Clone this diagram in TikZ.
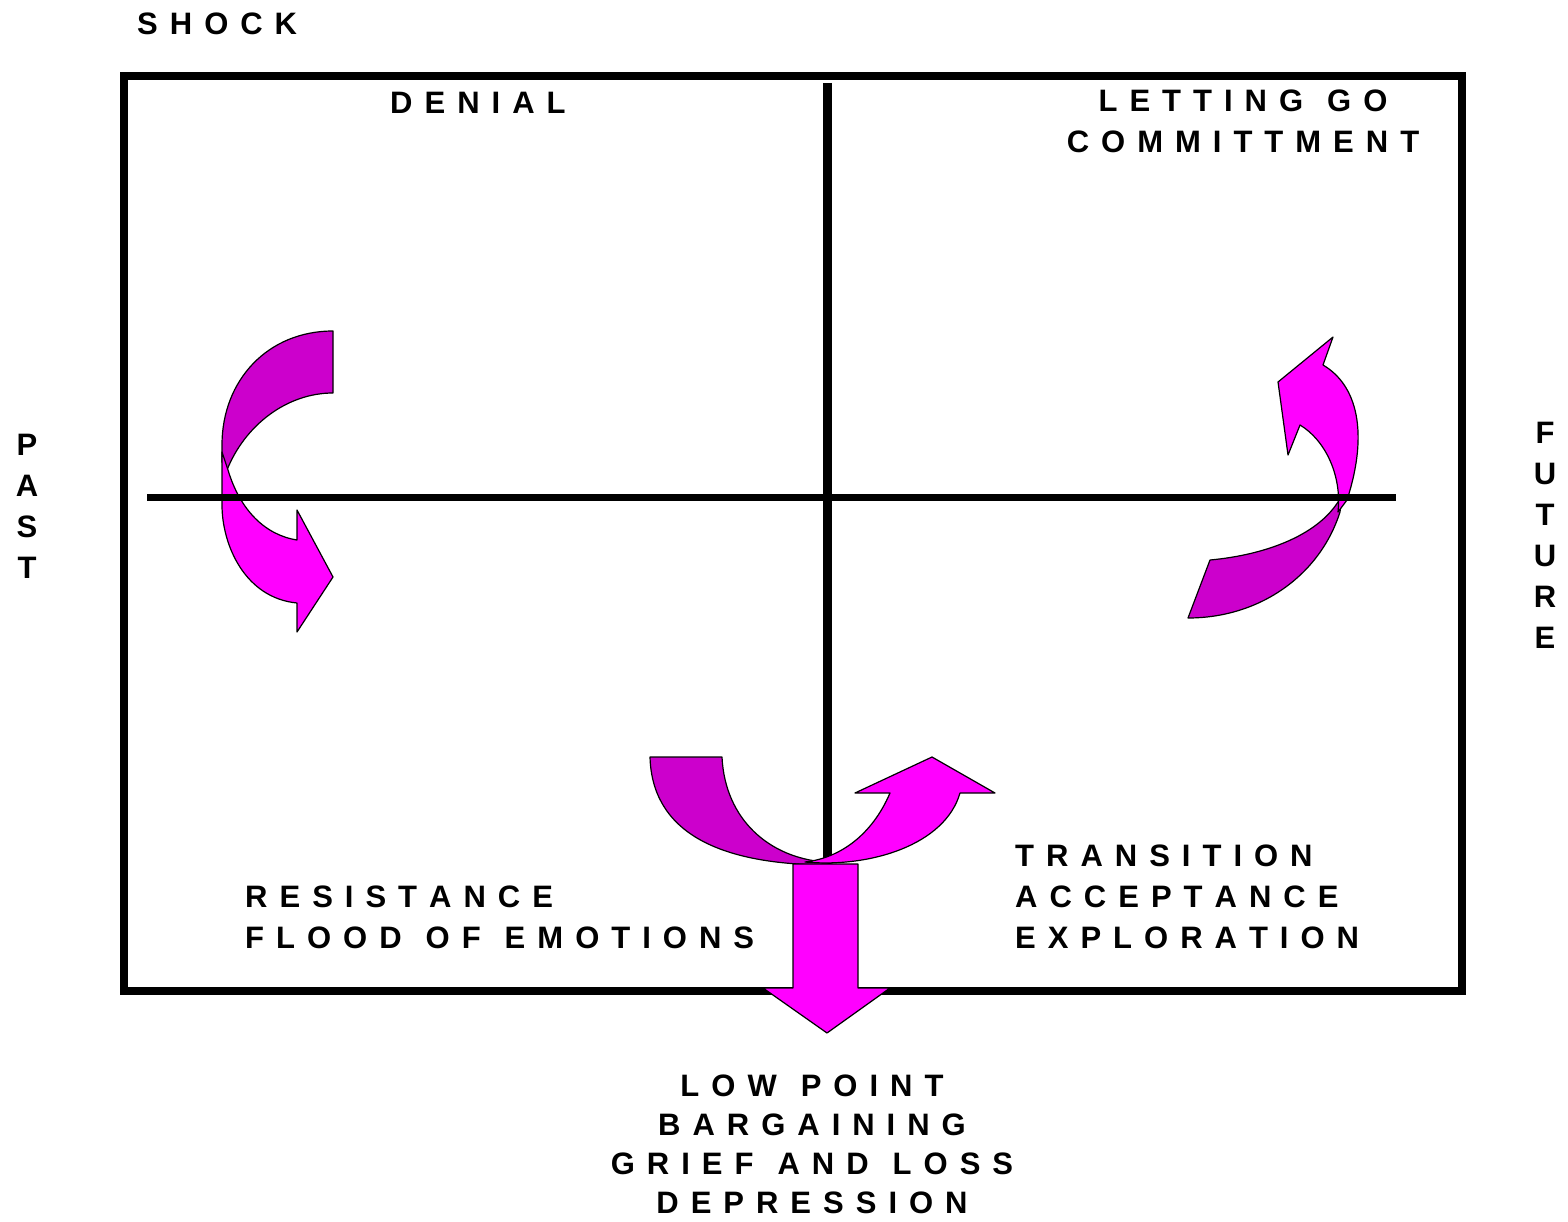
\documentclass[tikz,border=0pt]{standalone}
\usepackage{fontspec}
\setmainfont{Liberation Sans}
\usepackage{xcolor, tikz}
\usetikzlibrary{calc}
\definecolor{backpink}{HTML}{CC00CC}
\definecolor{frontpink}{HTML}{FF00FF}
\newcommand{\stagefont}{\fontsize{31}{41}\selectfont\bfseries\spaceskip=12pt\relax}
\newcommand{\lowfont}{\fontsize{31}{39}\selectfont\bfseries\spaceskip=12pt\relax}
\tikzstyle{stage} = [font=\stagefont, inner sep=0pt, align=left, anchor=base west]
\tikzstyle{stagemid} = [font=\stagefont, inner sep=0pt, align=center, anchor=base]
\tikzstyle{frame} = [line width=8pt]
\tikzstyle{axis} = [line width=8pt]
\tikzstyle{backside} = [draw=black, line width=1.2pt, line join=round, fill=backpink]
\tikzstyle{frontside} = [draw=black, line width=1.2pt, line join=round, fill=frontpink]

\begin{document}
\begin{tikzpicture}[x=1pt, y=-1pt]
      \useasboundingbox[fill=white] (0,0) rectangle (1568,1222);
      % labels (base = last line)
      \node (shock)[stage] at (137,35) {S H O C K};
      \node (denial)[stage] at (390,114) {D E N I A L};
      \node (letgo)[stagemid] at (1243,153) {L E T T I N G~~G O\\C O M M I T T M E N T};
      \node (past)[stagemid] at (27,578) {P\\A\\S\\T};
      \node (future)[stagemid] at (1545,648) {F\\U\\T\\U\\R\\E};
      \node (resist)[stage] at (245,948) {R E S I S T A N C E\\F L O O D~~O F~~E M O T I O N S};
      \node (trans)[stage] at (1015,948) {T R A N S I T I O N\\A C C E P T A N C E\\E X P L O R A T I O N};
      \node (low)[stagemid, font=\lowfont] at (812,1213) {L O W~~P O I N T\\B A R G A I N I N G\\G R I E F~~A N D~~L O S S\\D E P R E S S I O N};
      % frame and vertical axis
      \draw [frame] (124,76) rectangle (1462,991);
      \coordinate (vtop) at (827,83);
      \coordinate (vbot) at (827,862);
      \draw [axis, line width=9pt] (vtop)--(vbot);
      % past -> denial -> resistance
      \fill [backside] (333,331) -- (333,393) .. controls (287,393) and (245,425) .. (227,470)
        -- (222,462) -- (222,445) .. controls (222,380) and (268,331) .. (333,331) -- cycle;
      \fill [frontside] (222,452) -- (228,470) .. controls (240,510) and (265,535) .. (297,540)
        -- (297,510) -- (333,577) -- (297,632) -- (297,603)
        .. controls (245,598) and (222,545) .. (222,505) -- cycle;
      % exploration -> commitment
      \fill [backside] (1188,618) -- (1210,560) .. controls (1265,555) and (1322,535) .. (1342,495)
        -- (1340,512) .. controls (1320,575) and (1260,618) .. (1188,618) -- cycle;
      \fill [frontside] (1338,512) .. controls (1342,475) and (1325,440) .. (1300,425)
        -- (1288,455) -- (1278,382) -- (1333,337) -- (1323,365)
        .. controls (1357,385) and (1369,432) .. (1347,500) -- cycle;
      % horizontal axis
      \coordinate (hleft) at (147,497);
      \coordinate (hright) at (1396,497);
      \draw [axis, line width=7pt] (hleft)--(hright);
      % low point
      \fill [backside] (650,757) -- (722,757) .. controls (725,820) and (770,858) .. (825,862)
        -- (835,865) .. controls (715,866) and (652,830) .. (650,757) -- cycle;
      \fill [frontside] (805,862) .. controls (870,868) and (945,845) .. (960,793)
        -- (995,793) -- (932,757) -- (855,793) -- (890,793)
        .. controls (872,835) and (840,858) .. (805,862) -- cycle;
      \fill [frontside] (793,864) -- (858,864) -- (858,988) -- (890,988) -- (827,1033)
        -- (763,988) -- (793,988) -- cycle;
    \end{tikzpicture}
\end{document}
